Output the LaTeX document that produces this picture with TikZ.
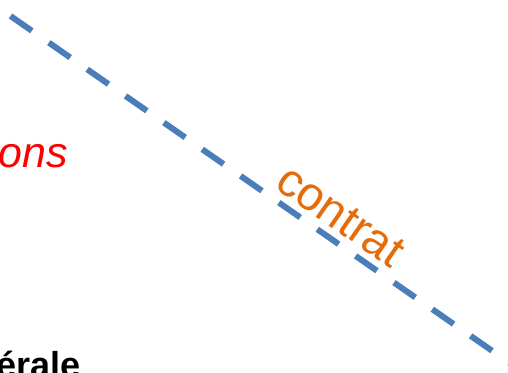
\documentclass[tikz,border=0pt]{standalone}
\usepackage{fontspec}
\setmainfont{Liberation Sans}
\usetikzlibrary{calc, positioning}
\definecolor{traitbleu}{HTML}{4A7EBB}
\definecolor{orangecontrat}{HTML}{E46C0A}

\begin{document}
\begin{tikzpicture}[x=1pt, y=1pt]
		\useasboundingbox (0,0) rectangle (508,372);
		\clip (0,0) rectangle (508,372);
		\begin{scope}
			\coordinate (debut) at (10.5,356);
			\coordinate (fin) at (560,-26);
			\draw[traitbleu, line width=6pt, dash pattern=on 26pt off 20.7pt] (debut) -- (fin);
		\end{scope}
		\node[red, anchor=base east, inner sep=0pt, font=\itshape\fontsize{43}{48}\selectfont] (ons) at (68,204) {ons};
		\node[black, anchor=base east, inner sep=0pt, font=\bfseries\fontsize{36}{40}\selectfont] (erale) at (81,-5) {érale};
		% 	etiquette le long du trait
		\node[orangecontrat, rotate=-34.8, anchor=base west, inner sep=0pt, font=\fontsize{47}{50}\selectfont] (contrat) at (273,185) {contrat};
	\end{tikzpicture}
\end{document}
